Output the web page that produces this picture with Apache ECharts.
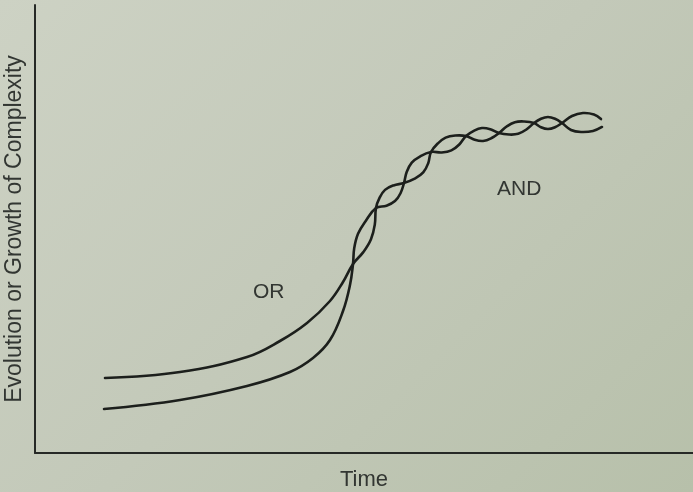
<!DOCTYPE html>
<html>
<head>
<meta charset="utf-8">
<script src="https://cdn.jsdelivr.net/npm/echarts@6/dist/echarts.min.js"></script>
<style>
html,body{margin:0;padding:0;width:693px;height:492px;overflow:hidden;
background:linear-gradient(135deg,#cdd2c4 0%,#c3c9b9 50%,#b7c0aa 100%);}
#chart{width:693px;height:492px;}
</style>
</head>
<body>
<div id="chart"></div>
<script>
// Curve that starts higher (gradual rise, labelled "OR"), then twists with the other
var orCurveX = [10.64, 22.04, 32.22, 37.23, 41.34, 44.83, 46.81, 48.33,
  49.89, 51.06, 51.64, 51.82, 52.36, 53.19, 54.48, 56.08, 57.71, 59.00, 59.76, 60.18,
  61.21, 62.40, 63.87, 65.50, 66.82, 68.10, 69.33, 70.52, 71.67, 72.93, 74.33, 75.84,
  76.90, 77.96, 79.03, 80.09, 81.61, 83.28, 84.95, 86.02];
var orCurveY = [16.74, 18.08, 21.43, 25.00, 29.02, 33.93, 38.17, 42.19,
  44.84, 47.72, 50.98, 54.69, 56.94, 58.73, 59.73, 60.27, 61.23, 62.63, 64.69, 67.19,
  69.08, 70.40, 70.87, 70.76, 69.91, 69.64, 70.25, 71.43, 72.88, 73.84, 74.00, 73.66,
  72.72, 72.32, 72.72, 73.66, 75.22, 75.89, 75.56, 74.55];
// Curve that starts lower (steep rise), then twists with the other
var andCurveX = [10.49, 22.04, 32.22, 38.75, 42.25, 44.83, 46.81, 47.87, 48.33,
  48.51, 49.09, 50.26, 51.82, 53.42, 54.71, 55.55, 56.08, 56.50, 57.26, 58.55, 60.18,
  61.82, 63.28, 64.48, 65.50, 66.69, 67.92, 69.19, 70.52, 72.04, 73.43, 74.68, 75.84,
  76.90, 77.96, 79.03, 80.09, 81.46, 82.98, 84.80, 86.17];
var andCurveY = [9.82, 11.83, 14.96, 18.08, 21.21, 25.22, 31.70, 37.50, 42.19,
  45.67, 48.93, 51.81, 54.69, 55.20, 56.23, 57.99, 60.27, 62.77, 64.82, 66.23, 67.19,
  67.08, 67.54, 68.86, 70.76, 71.92, 72.54, 72.28, 71.43, 71.09, 71.25, 72.21, 73.66,
  74.60, 75.00, 74.60, 73.66, 72.10, 71.65, 71.88, 72.77];
var xAxisTitle = 'Time';
var yAxisTitle = 'Evolution or Growth of Complexity';
var curveLabels = ['OR', 'AND'];

function pairs(xs, ys) { return xs.map(function (x, i) { return [x, ys[i]]; }); }

var chart = echarts.init(document.getElementById('chart'), null, { renderer: 'canvas' });
var lineColor = '#1c1f1c';
var textColor = '#323632';
var fontFam = '"Liberation Sans", Arial, sans-serif';

function curveSeries(data) {
  return {
    type: 'custom',
    coordinateSystem: 'cartesian2d',
    data: data,
    encode: { x: 0, y: 1 },
    clip: false,
    renderItem: function (params, api) {
      if (params.dataIndex !== 0) return null;
      var pts = data.map(function (p) { return api.coord(p); });
      return {
        type: 'polyline',
        shape: { points: pts, smooth: 0.4 },
        style: { stroke: lineColor, lineWidth: 2.6, fill: null, lineCap: 'round', lineJoin: 'round' }
      };
    }
  };
}

chart.setOption({
  backgroundColor: 'transparent',
  animation: false,
  grid: { left: 35, right: 0, top: 5, bottom: 39, containLabel: false, outerBoundsMode: 'none' },
  xAxis: {
    type: 'value', min: 0, max: 100,
    name: xAxisTitle, nameLocation: 'middle', nameGap: 16,
    nameTextStyle: { color: textColor, fontSize: 22, fontFamily: fontFam, verticalAlign: 'top' },
    axisLine: { show: true, lineStyle: { color: '#262926', width: 2 } },
    axisTick: { show: false }, axisLabel: { show: false }, splitLine: { show: false }
  },
  yAxis: {
    type: 'value', min: 0, max: 100,
    name: yAxisTitle, nameLocation: 'middle', nameGap: 9, nameRotate: 90,
    nameTextStyle: { color: textColor, fontSize: 23, fontFamily: fontFam },
    axisLine: { show: true, lineStyle: { color: '#262926', width: 2 } },
    axisTick: { show: false }, axisLabel: { show: false }, splitLine: { show: false }
  },
  series: [
    curveSeries(pairs(orCurveX, orCurveY)),
    curveSeries(pairs(andCurveX, andCurveY))
  ],
  graphic: [
    { type: 'text', left: 253, top: 282, style: { text: curveLabels[0], fill: textColor, font: '21px ' + fontFam } },
    { type: 'text', left: 497, top: 179, style: { text: curveLabels[1], fill: textColor, font: '21px ' + fontFam } }
  ]
});
</script>
</body>
</html>
